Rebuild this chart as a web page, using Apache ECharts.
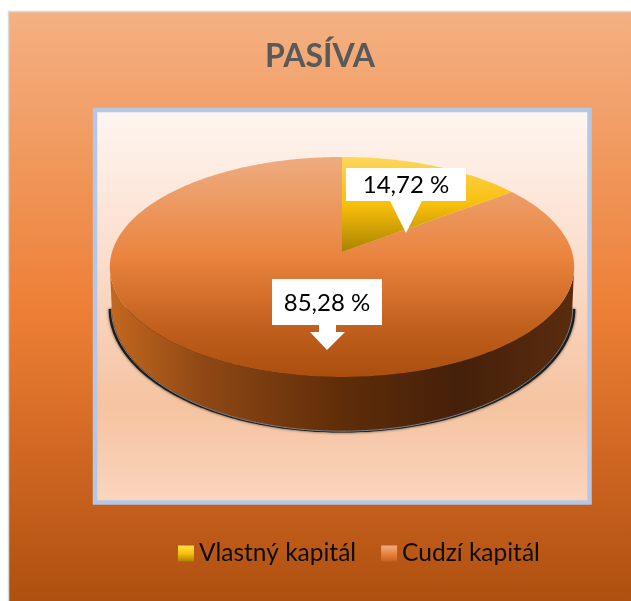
<!DOCTYPE html>
<html>
<head>
<meta charset="utf-8">
<title>PASÍVA</title>
<script src="https://cdn.jsdelivr.net/npm/echarts@6/dist/echarts.min.js"></script>
<style>
  html, body { margin: 0; padding: 0; background: #fff; }
  #chart { width: 631px; height: 601px; }
</style>
</head>
<body>
<div id="chart"></div>
<script>
  const categories = ['Vlastný kapitál', 'Cudzí kapitál']
  const shareValues = [14.72, 85.28]

  const FONT = 'Lato, "Open Sans", sans-serif'
  const total = shareValues.reduce((a, b) => a + b, 0)

  // tilted pie: circle goes through a perspective mapping, so the apex sits above the ellipse centre
  const pie = {cx: 342, cy: 267, c: 230, a: 110, b: 15, k: 0.136}

  function project(deg) {
    const r = deg * Math.PI / 180
    const u = Math.sin(r)
    const v = Math.cos(r)
    const w = 1 + pie.k * v
    return [pie.cx + pie.c * u / w, pie.cy - (pie.a * v + pie.b) / w]
  }

  // bottom rim of the wall, deeper towards the viewer
  function projectBottom(deg, grow) {
    const p = project(deg)
    const v = Math.cos(deg * Math.PI / 180)
    const x = pie.cx + (p[0] - pie.cx) * (0.992 + grow)
    return [x, p[1] + 38 - v * 16 + grow * 120]
  }

  function slicePoints(from, to) {
    const pts = [[pie.cx, pie.cy - pie.b]]
    for (let d = from; d <= to; d += 1) pts.push(project(d))
    pts.push(project(to))
    return pts
  }

  function bottomRim(grow) {
    const pts = []
    for (let d = 262; d >= 98; d -= 1) pts.push(projectBottom(d, grow))
    return pts
  }

  function wallPoints(grow) {
    const pts = []
    for (let d = 98; d <= 262; d += 1) pts.push(project(d))
    return pts.concat(bottomRim(grow))
  }

  function vGrad(stops) {
    return {
      type: 'linear', x: 0, y: 0, x2: 0, y2: 1,
      colorStops: stops.map(s => ({offset: s[0], color: s[1]}))
    }
  }

  const orangeTop = vGrad([[0, '#eeac80'], [0.45, '#ea843f'], [0.75, '#c4621f'], [1, '#aa4e0f']])
  const yellowTop = vGrad([[0, '#fdd65c'], [0.5, '#f8bf0b'], [1, '#a98200']])
  const wallFill = {
    type: 'linear', x: 0, y: 0, x2: 1, y2: 0,
    colorStops: [
      {offset: 0, color: '#c4681f'},
      {offset: 0.2, color: '#8f4815'},
      {offset: 0.5, color: '#5f2d08'},
      {offset: 0.75, color: '#45200a'},
      {offset: 1, color: '#5a2c0e'}
    ]
  }

  function labelText(val) {
    return val.toFixed(2).replace('.', ',') + ' %'
  }

  function callout(points, textX, textY, text) {
    return [
      {type: 'polygon', shape: {points: points}, style: {fill: '#fff'}},
      {
        type: 'text',
        style: {
          text: text, x: textX, y: textY, fill: '#000',
          font: '24px ' + FONT, align: 'center', verticalAlign: 'middle'
        }
      }
    ]
  }

  function renderYellow(params, api) {
    const val = api.value(0)
    const to = val / total * 360
    return {
      type: 'group',
      children: [
        {type: 'polygon', shape: {points: slicePoints(0, to)}, style: {fill: yellowTop}}
      ].concat(callout(
        [[346, 168], [466, 168], [466, 201], [422, 201], [406, 233], [390, 201], [346, 201]],
        406, 185, labelText(val)
      ))
    }
  }

  function renderOrange(params, api) {
    const val = api.value(0)
    const from = (total - val) / total * 360
    return {
      type: 'group',
      children: [
        {
          // dark edge under the wall, only the rim so it starts low on the sides
          type: 'polygon',
          shape: {points: bottomRim(0.013)},
          style: {fill: '#1c1c1c', shadowBlur: 3, shadowColor: 'rgba(0,0,0,0.7)'}
        },
        {type: 'polygon', shape: {points: wallPoints(0)}, style: {fill: wallFill}},
        {
          type: 'polyline',
          shape: {points: bottomRim(0.002)},
          style: {fill: null, stroke: '#7f8489', lineWidth: 1}
        },
        {type: 'polygon', shape: {points: slicePoints(from, 360)}, style: {fill: orangeTop}}
      ].concat(callout(
        [[272, 279], [382, 279], [382, 325], [336, 325], [336, 332], [345, 332], [327, 350],
          [310, 332], [319, 332], [319, 325], [272, 325]],
        327, 303, labelText(val)
      ))
    }
  }

  const chart = echarts.init(document.getElementById('chart'), null, {renderer: 'canvas'})
  chart.setOption({
    animation: false,
    title: {
      text: 'PASÍVA',
      left: 315,
      top: 36,
      textAlign: 'center',
      textStyle: {color: '#595959', fontFamily: FONT, fontWeight: 'bold', fontSize: 32}
    },
    legend: {
      left: 173,
      top: 536,
      icon: 'rect',
      itemWidth: 16,
      itemHeight: 16,
      itemGap: 25,
      selectedMode: false,
      textStyle: {color: '#0d0d0d', fontFamily: FONT, fontSize: 24.5},
      data: categories
    },
    graphic: [
      {
        type: 'rect',
        z: 0,
        shape: {x: 8.5, y: 11.5, width: 630, height: 600},
        style: {
          stroke: '#d9d9d9',
          lineWidth: 1.5,
          fill: vGrad([[0, '#f4b183'], [0.5, '#ed7f35'], [0.82, '#c55f1c'], [1, '#ac4e0e']])
        }
      },
      {
        type: 'rect',
        z: 1,
        shape: {x: 95, y: 110, width: 494.5, height: 392.5},
        style: {
          stroke: '#b4c7e7',
          lineWidth: 4.5,
          fill: vGrad([[0, '#fef6f1'], [0.4, '#fbdcc9'], [0.75, '#f5c3a0'], [1, '#fbd6bf']])
        }
      }
    ],
    series: [
      {
        type: 'custom',
        name: categories[0],
        coordinateSystem: 'none',
        z: 3,
        silent: true,
        clip: false,
        itemStyle: {color: vGrad([[0, '#ffe14d'], [0.5, '#f8bf0b'], [1, '#a98200']])},
        renderItem: renderYellow,
        data: [[shareValues[0]]]
      },
      {
        type: 'custom',
        name: categories[1],
        coordinateSystem: 'none',
        z: 2,
        silent: true,
        clip: false,
        itemStyle: {color: vGrad([[0, '#f0ad82'], [0.5, '#ea843f'], [1, '#c4621f']])},
        renderItem: renderOrange,
        data: [[shareValues[1]]]
      }
    ]
  })
</script>
</body>
</html>
